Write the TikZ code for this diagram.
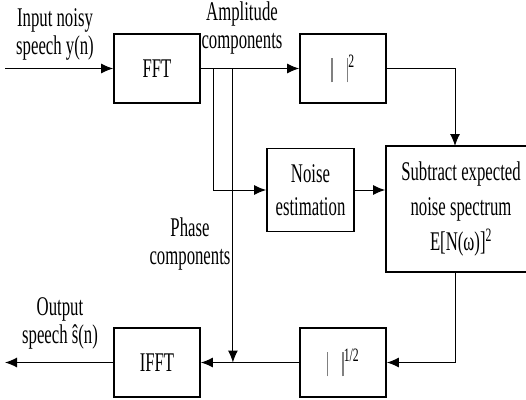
\documentclass[tikz,border=0pt]{standalone}
\usepackage{fontspec}
\setmainfont{Liberation Serif}[FakeStretch=0.62]
\usetikzlibrary{positioning}
\usetikzlibrary{calc}
\usetikzlibrary{arrows.meta}

\newcommand{\magbars}{\textcolor{gray}{\rule[-6pt]{1.6pt}{24pt}\hspace{14pt}\rule[-6pt]{1.6pt}{24pt}}}

\begin{document}
\begin{tikzpicture}[x=1pt, y=-1pt,
    block/.style={draw, line width=1.8pt, minimum width=86pt, minimum height=69pt, inner sep=0pt, align=center},
    txt/.style={align=center, inner sep=0pt},
    conn/.style={line width=1pt},
    arr/.style={conn, -{Latex[length=12pt, width=10pt]}},
    font=\fontsize{27}{28}\selectfont]
  \useasboundingbox (0,0) rectangle (526,399);

  \node[block] (fft) at (157,68.5) {FFT};
  \node[block] (sq) at (343,68.5) {\magbars\textsuperscript{2}};
  \node[block, minimum width=87pt, minimum height=83pt, font=\fontsize{27}{33}\selectfont] (noise) at (310.5,190) {Noise\\estimation};
  \node[block, minimum width=150pt, minimum height=126pt, font=\fontsize{27}{35}\selectfont] (sub) at (461,209) {Subtract expected\hspace{6pt}\\noise spectrum\hspace{6pt}\\E[N(ω)]\textsuperscript{2}\hspace{6pt}};
  \node[block] (root) at (343,362.5) {\magbars\textsuperscript{1/2}};
  \node[block] (ifft) at (157,362.5) {IFFT};

  \node[txt] (inlbl) at (55,34.5) {Input noisy\\speech y(n)};
  \node[txt] (amplbl) at (242,28) {Amplitude\\components};
  \node[txt] (phlbl) at (190,244.5) {Phase\\components};
  \node[txt] (outlbl) at (60,323.5) {Output\\speech ŝ(n)};

  \coordinate (in) at (5,68.5);
  \coordinate (out) at (5,362.5);
  \coordinate (amp) at ($(fft.east)+(13,0)$);
  \coordinate (ph) at ($(fft.east)+(32,0)$);
  \coordinate (subin) at (455,146);
  \coordinate (subout) at (455,272);

  \draw[arr] (in) -- (fft.west);
  \draw[arr] (fft.east) -- (sq.west);
  \draw[arr] (amp) |- (noise.west);
  \draw[arr] (ph) -- (ph |- ifft.east);
  \draw[arr] (noise.east) -- (noise.east -| sub.west);
  \draw[arr] (sq.east) -| (subin);
  \draw[arr] (subout) |- (root.east);
  \draw[arr] (root.west) -- (ifft.east);
  \draw[arr] (ifft.west) -- (out);
\end{tikzpicture}
\end{document}
